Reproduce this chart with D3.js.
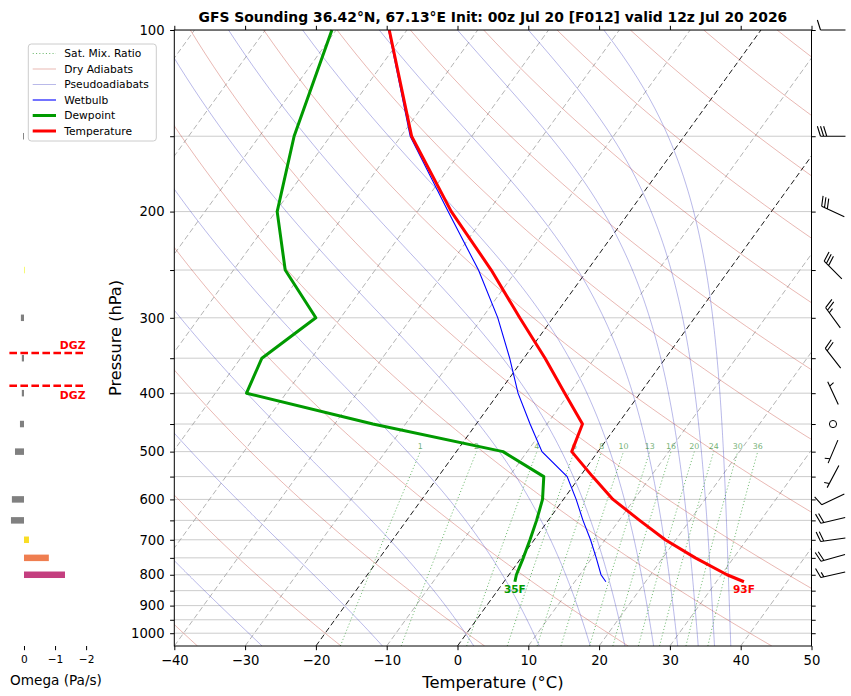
<!DOCTYPE html>
<html>
<head>
<meta charset="utf-8">
<title>GFS Sounding</title>
<script src="https://d3js.org/d3.v7.min.js"></script>
<style>
    body { margin: 0; background: #fff; }
    svg { font-family: "DejaVu Sans", sans-serif; }
</style>
</head>
<body>
<svg width="851" height="696"></svg>
<script>

// sounding profile (hPa, degC), last level is the surface
const pressure    = [100, 150, 200, 250, 300, 350, 400, 450, 500, 550, 600, 650, 700, 750, 800, 821.6];
const temperature = [-72.5, -58.5, -45.2, -33.6, -24.7, -17.0, -10.65, -5.0, -3.7, 1.8, 7.0, 12.9, 18.5, 24.6, 30.8, 33.9];
const dewpoint    = [-80.6, -75.1, -69.8, -62.7, -53.5, -57.0, -55.6, -34.6, -13.4, -5.1, -2.95, -1.65, -0.6, 0.3, 1.05, 1.55];
const wetbulb     = [-72.6, -58.7, -45.65, -35.4, -27.8, -22.0, -17.25, -12.4, -7.9, -1.8, 1.8, 4.9, 7.95, 10.6, 13.0, 14.4];

// winds and omega on the standard levels
const windLevels = [100, 150, 200, 250, 300, 350, 400, 450, 500, 550, 600, 650, 700, 750, 800];
const windDir    = [270, 270, 295, 315, 324, 322, 335, 0, 203, 208, 245, 257, 262, 254, 257];
const windSpeed  = [10, 30, 30, 30, 25, 20, 5, 0, 5, 5, 10, 20, 20, 20, 15];
const omega      = [0, 0.03, 0, -0.02, 0.10, 0.07, 0.07, 0.13, 0.29, 0, 0.39, 0.42, -0.16, -0.80, -1.32];

// axes ticks and background line sets
const pressureLabels = [100, 200, 300, 400, 500, 600, 700, 800, 900, 1000];
const pressureMinor  = [150, 250, 350, 450, 550, 650, 750, 850, 950];
const tempTicks      = [-40, -30, -20, -10, 0, 10, 20, 30, 40, 50];
const omegaTicks     = [0, -1, -2];
const isotherms      = [-100, -90, -80, -70, -60, -50, -40, -30, -20, -10, 0, 10, 20, 30, 40, 50];
const dryAdiabats    = [-40, -20, 0, 20, 40, 60, 80, 100, 120, 140, 160, 180, 200, 220, 240]; // theta (degC at 1000 hPa)
const pseudoAdiabats = [-27.6, -10.6, 2.3, 11.55, 18.75, 23.65, 27.7, 31.1, 34.0, 36.3, 38.6]; // T at 1050 hPa
const mixingRatios   = [1, 2, 4, 6, 8, 10, 13, 16, 20, 24, 30, 36]; // g/kg
const dgzTemps       = [-18, -12];

const svg = d3.select("svg");
const plot = { left: 174.3, right: 811.5, top: 30, bottom: 646 };

const x = d3.scaleLinear().domain([-40, 50]).range([plot.left, plot.right]);
const y = d3.scaleLog().domain([1050, 100]).range([plot.bottom, plot.top]);
const skew = 0.7225; // horizontal shift per pixel of height
const sx = (t, p) => x(t) + skew * (plot.bottom - y(p));
const line = d3.line().x(d => sx(d[0], d[1])).y(d => y(d[1]));

// thermodynamics
const Rd = 287.04749, Cp = 1004.666, Lv = 2.50084e6, eps = 0.6219569, kappa = Rd / Cp;
const satVap = tc => 6.112 * Math.exp(17.67 * tc / (tc + 243.5));
function dTdp(p, tk) {
    const e = satVap(tk - 273.15);
    const rs = eps * e / (p - e);
    return (Rd * tk + Lv * rs) / (p * (Cp + Lv * Lv * rs * eps / (Rd * tk * tk)));
}
function moistLine(t0) {
    let tk = t0 + 273.15;
    const pts = [[t0, 1050]];
    const h = -5;
    for (let p = 1050; p > 100; p += h) {
        const k1 = dTdp(p, tk);
        const k2 = dTdp(p + h / 2, tk + h / 2 * k1);
        const k3 = dTdp(p + h / 2, tk + h / 2 * k2);
        const k4 = dTdp(p + h, tk + h * k3);
        tk += h / 6 * (k1 + 2 * k2 + 2 * k3 + k4);
        pts.push([tk - 273.15, p + h]);
    }
    return pts;
}
function mixDewpoint(p, w) {
    const e = p * (w / 1000) / (eps + w / 1000);
    const l = Math.log(e / 6.112);
    return 243.5 * l / (17.67 - l);
}

const pSteps = d3.range(1050, 99, -5);
const pMix = d3.range(1050, 495, -10);

svg.append("defs").append("clipPath").attr("id", "clip")
    .append("rect")
    .attr("x", plot.left).attr("y", plot.top)
    .attr("width", plot.right - plot.left).attr("height", plot.bottom - plot.top);

const bg = svg.append("g").attr("clip-path", "url(#clip)");

// horizontal pressure grid
bg.selectAll(".hgrid")
    .data(pressureLabels.concat(pressureMinor))
    .join("line")
    .attr("x1", plot.left).attr("x2", plot.right)
    .attr("y1", d => y(d)).attr("y2", d => y(d))
    .attr("stroke", "#cccccc").attr("stroke-width", 1);

// isotherms
bg.selectAll(".iso")
    .data(isotherms)
    .join("path")
    .attr("d", t => line([[t, 1050], [t, 100]]))
    .attr("fill", "none")
    .attr("stroke", t => (t === 0 || t === -20) ? "#000" : "#a0a0a0")
    .attr("stroke-width", t => (t === 0 || t === -20) ? 0.9 : 0.8)
    .attr("stroke-dasharray", "5.5,3");

// dry adiabats
bg.selectAll(".dry")
    .data(dryAdiabats)
    .join("path")
    .attr("d", th => line(pSteps.map(p => [(th + 273.15) * Math.pow(p / 1000, kappa) - 273.15, p])))
    .attr("fill", "none")
    .attr("stroke", "#c0392b").attr("stroke-opacity", 0.45).attr("stroke-width", 0.8);

// pseudoadiabats
bg.selectAll(".moist")
    .data(pseudoAdiabats)
    .join("path")
    .attr("d", t0 => line(moistLine(t0)))
    .attr("fill", "none")
    .attr("stroke", "#3a3ac0").attr("stroke-opacity", 0.45).attr("stroke-width", 0.8);

// saturation mixing ratio lines
bg.selectAll(".mix")
    .data(mixingRatios)
    .join("path")
    .attr("d", w => line(pMix.map(p => [mixDewpoint(p, w), p])))
    .attr("fill", "none")
    .attr("stroke", "#2e9a2e").attr("stroke-opacity", 0.75).attr("stroke-width", 0.9)
    .attr("stroke-dasharray", "1.1,2.2");

bg.selectAll(".mixlabel")
    .data(mixingRatios)
    .join("text")
    .attr("x", w => sx(mixDewpoint(500, w), 500))
    .attr("y", y(500) - 3)
    .attr("text-anchor", "middle")
    .style("font-size", "7.9px")
    .attr("fill", "#2e8b2e").attr("fill-opacity", 0.7)
    .text(w => w);

// profiles
const prof = g => pressure.map((p, i) => [g[i], p]);
svg.append("path").datum(prof(wetbulb))
    .attr("d", line).attr("fill", "none")
    .attr("stroke", "#0000ff").attr("stroke-width", 1.1);
svg.append("path").datum(prof(dewpoint))
    .attr("d", line).attr("fill", "none")
    .attr("stroke", "#009a00").attr("stroke-width", 3).attr("stroke-linejoin", "round");
svg.append("path").datum(prof(temperature))
    .attr("d", line).attr("fill", "none")
    .attr("stroke", "#ff0000").attr("stroke-width", 3).attr("stroke-linejoin", "round");

// surface values in F
const sfc = pressure.length - 1;
const toF = c => Math.round(c * 9 / 5 + 32) + "F";
[[dewpoint, "#009a00"], [temperature, "#ff0000"]].forEach(([g, c]) => {
    svg.append("text")
        .attr("x", sx(g[sfc], pressure[sfc]))
        .attr("y", y(pressure[sfc]) + 11)
        .attr("text-anchor", "middle")
        .style("font-size", "10.5px").style("font-weight", "bold")
        .attr("fill", c)
        .text(toF(g[sfc]));
});

// frame and axes
svg.append("rect")
    .attr("x", plot.left).attr("y", plot.top)
    .attr("width", plot.right - plot.left).attr("height", plot.bottom - plot.top)
    .attr("fill", "none").attr("stroke", "#000").attr("stroke-width", 1);

const styleAxis = (g, fs) => {
    g.select(".domain").remove();
    g.selectAll("text").style("font-size", fs).attr("fill", "#000").style("font-family", "DejaVu Sans");
    g.selectAll("line").attr("stroke", "#000");
};

svg.append("g")
    .attr("transform", `translate(0,${plot.bottom})`)
    .call(d3.axisBottom(x).tickValues(tempTicks).tickSize(4.2).tickPadding(5))
    .call(g => styleAxis(g, "13.2px"));

svg.append("g")
    .attr("transform", `translate(0,${plot.top})`)
    .call(d3.axisTop(x).tickValues(tempTicks).tickSize(4.2).tickFormat(""))
    .call(g => styleAxis(g, "12px"));

svg.append("g")
    .attr("transform", `translate(${plot.left},0)`)
    .call(d3.axisLeft(y).tickValues(pressureLabels.concat(pressureMinor)).tickSize(4.2).tickPadding(5.5)
        .tickFormat(d => pressureLabels.includes(d) ? d : ""))
    .call(g => styleAxis(g, "13.2px"));

svg.append("g")
    .attr("transform", `translate(${plot.right},0)`)
    .call(d3.axisRight(y).tickValues(pressureLabels.concat(pressureMinor)).tickSize(4.2).tickFormat(""))
    .call(g => styleAxis(g, "12px"));

// wind barbs (matplotlib style, pivot middle)
function barbPath(dir, spd, cx, cy) {
    const L = 7, s = 3.57;
    const fullH = 0.4 * L, fullW = 0.25 * L, spacing = 0.125 * L;
    const rad = dir * Math.PI / 180;
    const u = -spd * Math.sin(rad), v = -spd * Math.cos(rad);
    const rot = Math.atan2(v, u) + Math.PI / 2;
    const c = Math.cos(rot), sn = Math.sin(rot);
    const P = (px, py) => [cx + s * (px * c - py * sn), cy - s * (px * sn + py * c)];
    const endy = -L / 2;
    let flags = Math.floor(spd / 50), rem = spd - flags * 50;
    const barbs = Math.floor(rem / 10), half = (rem - barbs * 10) >= 5;
    const path = d3.path();
    const a = P(0, endy), b = P(0, endy + L);
    path.moveTo(a[0], a[1]); path.lineTo(b[0], b[1]);
    let offset = L;
    for (let i = 0; i < flags; i++) {
        const p1 = P(0, endy + offset), p2 = P(fullH, endy - fullW / 2 + offset), p3 = P(0, endy - fullW + offset);
        path.moveTo(p1[0], p1[1]); path.lineTo(p2[0], p2[1]); path.lineTo(p3[0], p3[1]);
        offset -= fullW + spacing;
    }
    for (let i = 0; i < barbs; i++) {
        const p1 = P(0, endy + offset), p2 = P(fullH, endy + offset + fullW / 2);
        path.moveTo(p1[0], p1[1]); path.lineTo(p2[0], p2[1]);
        offset -= spacing;
    }
    if (half) {
        if (offset === L) offset -= 1.5 * spacing;
        const p1 = P(0, endy + offset), p2 = P(fullH / 2, endy + offset + fullW / 4);
        path.moveTo(p1[0], p1[1]); path.lineTo(p2[0], p2[1]);
    }
    return path.toString();
}

const barbX = 833;
const barbG = svg.append("g");
windLevels.forEach((p, i) => {
    if (windSpeed[i] < 5) {
        barbG.append("circle")
            .attr("cx", barbX).attr("cy", y(p)).attr("r", 3.6)
            .attr("fill", "none").attr("stroke", "#000").attr("stroke-width", 1);
    } else {
        barbG.append("path")
            .attr("d", barbPath(windDir[i], windSpeed[i], barbX, y(p)))
            .attr("fill", "none").attr("stroke", "#000").attr("stroke-width", 1.1);
    }
});

// omega panel
const xo = d3.scaleLinear().domain([0.47, -2]).range([9.4, 86.1]);
const omegaG = svg.append("g");
omegaG.selectAll("rect")
    .data(windLevels.map((p, i) => ({ p: p, w: omega[i] })).filter(d => d.w !== 0))
    .join("rect")
    .attr("x", d => Math.min(xo(0), xo(d.w)))
    .attr("width", d => Math.abs(xo(d.w) - xo(0)))
    .attr("y", d => y(d.p) - 3.25)
    .attr("height", 6.5)
    .attr("fill", d => d.w > 0 ? "#808080" : d3.interpolatePlasma(1 - Math.min(-d.w / 2.5, 1)));

omegaG.append("g")
    .attr("transform", `translate(0,${plot.bottom})`)
    .call(d3.axisBottom(xo).tickValues(omegaTicks).tickSize(4.2).tickPadding(5).tickFormat(d3.format("d")))
    .call(g => styleAxis(g, "10.6px"));

svg.append("text")
    .attr("x", 56).attr("y", 684.5)
    .attr("text-anchor", "middle")
    .style("font-size", "13.6px")
    .text("Omega (Pa/s)");

// dendritic growth zone from the temperature profile
function levelOf(target) {
    for (let i = pressure.length - 1; i > 0; i--) {
        const t1 = temperature[i], t2 = temperature[i - 1];
        if ((t1 - target) * (t2 - target) <= 0) {
            const f = (target - t1) / (t2 - t1);
            return Math.exp(Math.log(pressure[i]) + f * (Math.log(pressure[i - 1]) - Math.log(pressure[i])));
        }
    }
    return null;
}
dgzTemps.forEach((t, i) => {
    const p = levelOf(t);
    if (!p) return;
    svg.append("line")
        .attr("x1", xo(0.47)).attr("x2", xo(-1.97))
        .attr("y1", y(p)).attr("y2", y(p))
        .attr("stroke", "#ff0000").attr("stroke-width", 2.6)
        .attr("stroke-dasharray", "7.6,3.4");
    svg.append("text")
        .attr("x", 85.5)
        .attr("y", i === 0 ? y(p) - 4 : y(p) + 13.5)
        .attr("text-anchor", "end")
        .style("font-size", "10.8px").style("font-weight", "bold")
        .attr("fill", "#ff0000")
        .text("DGZ");
});

// legend
const legendItems = [
    { label: "Sat. Mix. Ratio", stroke: "#2e9a2e", width: 0.9, dash: "1.1,2.2", opacity: 0.75 },
    { label: "Dry Adiabats", stroke: "#c0392b", width: 0.8, dash: null, opacity: 0.45 },
    { label: "Pseudoadiabats", stroke: "#3a3ac0", width: 0.8, dash: null, opacity: 0.45 },
    { label: "Wetbulb", stroke: "#0000ff", width: 1.1, dash: null, opacity: 1 },
    { label: "Dewpoint", stroke: "#009a00", width: 3, dash: null, opacity: 1 },
    { label: "Temperature", stroke: "#ff0000", width: 3, dash: null, opacity: 1 }
];
const legend = svg.append("g");
legend.append("rect")
    .attr("x", 28.3).attr("y", 44).attr("width", 128).attr("height", 97).attr("rx", 3)
    .attr("fill", "#fff").attr("fill-opacity", 0.8)
    .attr("stroke", "#cccccc").attr("stroke-width", 1);
legendItems.forEach((d, i) => {
    const ly = 53.5 + i * 15.5;
    legend.append("line")
        .attr("x1", 32.7).attr("x2", 56).attr("y1", ly).attr("y2", ly)
        .attr("stroke", d.stroke).attr("stroke-width", d.width)
        .attr("stroke-opacity", d.opacity)
        .attr("stroke-dasharray", d.dash);
    legend.append("text")
        .attr("x", 64.3).attr("y", ly).attr("dy", "0.35em")
        .style("font-size", "10.7px")
        .text(d.label);
});

// titles
svg.append("text")
    .attr("x", (plot.left + plot.right) / 2).attr("y", 21.5)
    .attr("text-anchor", "middle")
    .style("font-size", "13.9px").style("font-weight", "bold")
    .text("GFS Sounding 36.42°N, 67.13°E Init: 00z Jul 20 [F012] valid 12z Jul 20 2026");

svg.append("text")
    .attr("x", (plot.left + plot.right) / 2).attr("y", 688)
    .attr("text-anchor", "middle")
    .style("font-size", "16.4px")
    .text("Temperature (°C)");

svg.append("text")
    .attr("transform", `translate(121,${(plot.top + plot.bottom) / 2}) rotate(-90)`)
    .attr("text-anchor", "middle")
    .style("font-size", "16.2px")
    .text("Pressure (hPa)");

</script>
</body>
</html>
